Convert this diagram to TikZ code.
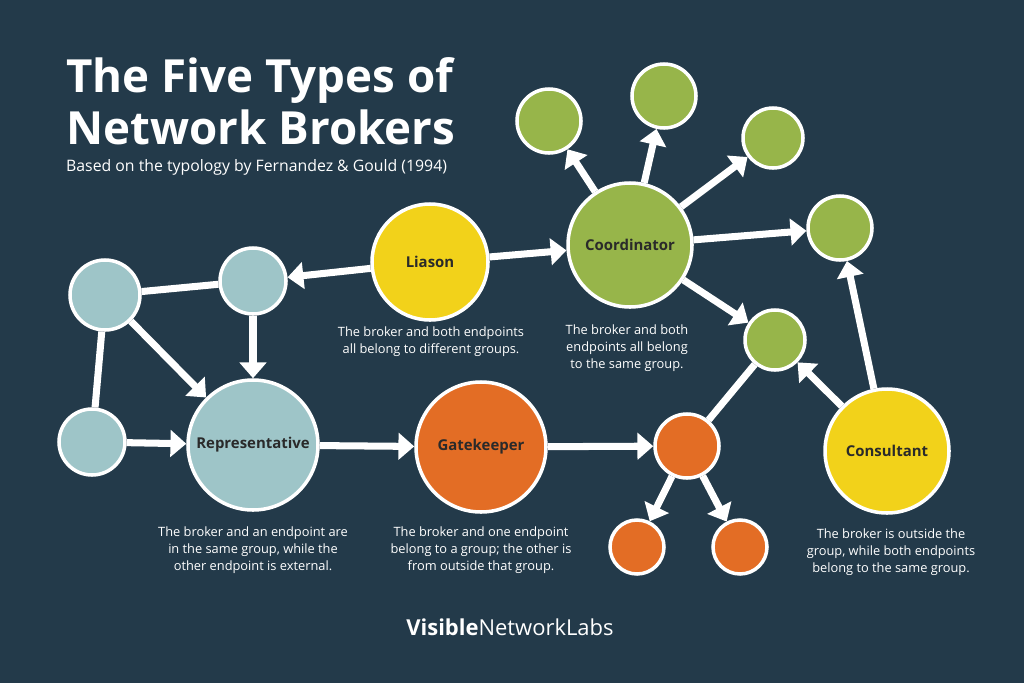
\documentclass[tikz,border=0pt]{standalone}
\usepackage{fontspec}
\setmainfont{Open Sans}
\usetikzlibrary{arrows.meta}
\definecolor{bgblue}{HTML}{233A4A}
\definecolor{tealc}{HTML}{9EC5C8}
\definecolor{greenc}{HTML}{97B54A}
\definecolor{yellowc}{HTML}{F2D21A}
\definecolor{orangec}{HTML}{E36D25}
\definecolor{darktext}{HTML}{2A2A2A}
\tikzset{
  broker/.style={circle,draw=white,line width=2pt,minimum size=#1*0.02cm,inner sep=0pt,outer sep=1pt},
  link/.style={white,line width=4pt},
  arrow/.style={link,-{Triangle[length=9pt,width=15pt]}},
  brokerlabel/.style={font=\fontsize{8.5}{10}\selectfont\bfseries,text=darktext},
  caption/.style={white,align=center,font=\fontsize{7.3}{9.7}\selectfont}
}
\begin{document}
\begin{tikzpicture}[x=0.02cm,y=-0.02cm]
		% Background
		\fill[bgblue] (0,0) rectangle (1024,683);
		
		% Title
		\node[anchor=west,white,font=\fontsize{26}{29.5}\selectfont\bfseries,align=left] (title) at (60,101) {The Five Types of\\Network Brokers};
		\node[anchor=west,white,font=\fontsize{9}{10}\selectfont] (subtitle) at (60,167) {Based on the typology by Fernandez \& Gould (1994)};
		
		% Liason and Coordinator
		\node[broker=116,fill=yellowc,brokerlabel] (liason) at (430,262) {Liason};
		\node[broker=124,fill=greenc,brokerlabel] (coord) at (630,245) {Coordinator};
		\node[broker=64,fill=greenc] (g1) at (549,121) {};
		\node[broker=64,fill=greenc] (g2) at (664,96) {};
		\node[broker=60,fill=greenc] (g3) at (773,138) {};
		\node[broker=64,fill=greenc] (g4) at (840,228) {};
		\node[broker=60,fill=greenc] (g5) at (775,340) {};
		
		% Representative group
		\node[broker=70,fill=tealc] (t1) at (105,295) {};
		\node[broker=66,fill=tealc] (t2) at (253,281) {};
		\node[broker=66,fill=tealc] (t3) at (92,442) {};
		\node[broker=130,fill=tealc,brokerlabel] (rep) at (253,445) {Representative};
		
		% Gatekeeper group
		\node[broker=130,fill=orangec,brokerlabel] (gate) at (481,447) {Gatekeeper};
		\node[broker=64,fill=orangec] (o1) at (687,446) {};
		\node[broker=54,fill=orangec] (o2) at (637,547) {};
		\node[broker=54,fill=orangec] (o3) at (740,547) {};
		
		% Consultant
		\node[broker=124,fill=yellowc,brokerlabel] (cons) at (887,451) {Consultant};
		
		% Connectors
		\draw[arrow] (liason) -- (t2);
		\draw[arrow] (liason) -- (coord);
		\foreach \g in {g1,g2,g3,g4,g5}
			\draw[arrow] (coord) -- (\g);
		\draw[link] (t1) -- (t2);
		\draw[link] (t1) -- (t3);
		\draw[arrow] (t1) -- (rep);
		\draw[arrow] (t2) -- (rep);
		\draw[arrow] (t3) -- (rep);
		\draw[arrow] (rep) -- (gate);
		\draw[arrow] (gate) -- (o1);
		\draw[link] (o1) -- (g5);
		\draw[arrow] (o1) -- (o2);
		\draw[arrow] (o1) -- (o3);
		\draw[arrow] (cons) -- (g5);
		\draw[arrow] (cons) -- (g4);
		
		% Captions
		\node[caption] (capl) at (431,342) {The broker and both endpoints\\all belong to different groups.};
		\node[caption] (capc) at (627,348) {The broker and both\\endpoints all belong\\to the same group.};
		\node[caption] (capr) at (253,550) {The broker and an endpoint are\\in the same group, while the\\other endpoint is external.};
		\node[caption] (capg) at (481,550) {The broker and one endpoint\\belong to a group; the other is\\from outside that group.};
		\node[caption] (capk) at (891,552) {The broker is outside the\\group, while both endpoints\\belong to the same group.};
		
		% Logo
		\node[white,font=\fontsize{12.5}{14}\selectfont] (logo) at (510,627) {\textbf{Visible}Network{\fontseries{l}\selectfont Labs}};
	\end{tikzpicture}
\end{document}
